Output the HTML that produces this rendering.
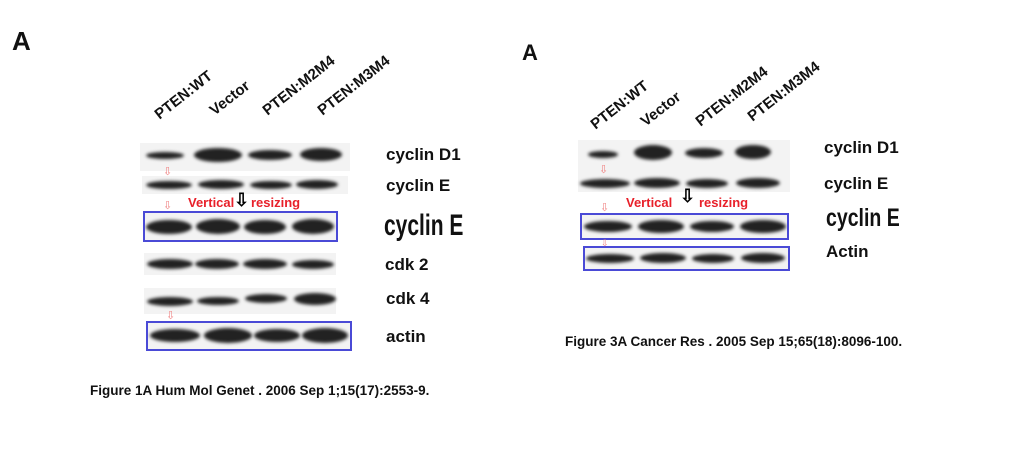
<!DOCTYPE html>
<html><head><style>
body{margin:0;width:1024px;height:450px;background:#fff;position:relative;overflow:hidden;font-family:"Liberation Sans",sans-serif}
.a{position:absolute}
.t{position:absolute;font-weight:bold;color:#111;white-space:nowrap}
.h{position:absolute;font-weight:bold;font-size:15px;color:#111;white-space:nowrap;transform-origin:0 100%;transform:rotate(-38deg)}
.strip{position:absolute;background:#f3f3f3}
.b{position:absolute;background:#222;border-radius:50%;filter:blur(1.5px)}
.box{position:absolute;border:2.5px solid #4a4ad6;box-sizing:border-box}
.r{position:absolute;color:#e8202a;font-weight:bold;font-size:13px}
.pa{position:absolute;color:#f08080;font-size:11px}
.big{position:absolute;font-weight:bold;color:#111;white-space:nowrap;transform-origin:0 0}
</style></head><body>
<div class="t" style="left:12px;top:26px;font-size:26px">A</div>
<div class="t" style="left:522px;top:40px;font-size:22px">A</div>

<div class="h" style="left:162px;top:106px">PTEN:WT</div>
<div class="h" style="left:217px;top:102px">Vector</div>
<div class="h" style="left:270px;top:102px">PTEN:M2M4</div>
<div class="h" style="left:325px;top:102px">PTEN:M3M4</div>

<div class="h" style="left:598px;top:116px">PTEN:WT</div>
<div class="h" style="left:648px;top:113px">Vector</div>
<div class="h" style="left:703px;top:113px">PTEN:M2M4</div>
<div class="h" style="left:755px;top:108px">PTEN:M3M4</div>

<!-- left blots -->
<div class="strip" style="left:140px;top:143px;width:210px;height:28px"></div>
<div class="b" style="left:146px;top:152px;width:38px;height:7px"></div>
<div class="b" style="left:194px;top:148px;width:48px;height:14px"></div>
<div class="b" style="left:248px;top:150px;width:44px;height:10px"></div>
<div class="b" style="left:300px;top:148px;width:42px;height:13px"></div>
<div class="strip" style="left:142px;top:176px;width:206px;height:18px"></div>
<div class="b" style="left:146px;top:181px;width:46px;height:8px"></div>
<div class="b" style="left:198px;top:180px;width:46px;height:9px"></div>
<div class="b" style="left:250px;top:181px;width:42px;height:8px"></div>
<div class="b" style="left:296px;top:180px;width:42px;height:9px"></div>
<div class="strip" style="left:144px;top:213px;width:192px;height:27px"></div>
<div class="b" style="left:146px;top:220px;width:46px;height:14px"></div>
<div class="b" style="left:196px;top:219px;width:44px;height:15px"></div>
<div class="b" style="left:244px;top:220px;width:42px;height:14px"></div>
<div class="b" style="left:292px;top:219px;width:42px;height:15px"></div>
<div class="box" style="left:143px;top:211px;width:195px;height:31px"></div>
<div class="strip" style="left:144px;top:253px;width:192px;height:22px"></div>
<div class="b" style="left:147px;top:259px;width:46px;height:10px"></div>
<div class="b" style="left:195px;top:259px;width:44px;height:10px"></div>
<div class="b" style="left:243px;top:259px;width:44px;height:10px"></div>
<div class="b" style="left:292px;top:260px;width:42px;height:9px"></div>
<div class="strip" style="left:144px;top:288px;width:192px;height:26px"></div>
<div class="b" style="left:147px;top:297px;width:46px;height:9px"></div>
<div class="b" style="left:197px;top:297px;width:42px;height:8px"></div>
<div class="b" style="left:245px;top:294px;width:42px;height:9px"></div>
<div class="b" style="left:294px;top:293px;width:42px;height:12px"></div>
<div class="strip" style="left:147px;top:323px;width:203px;height:26px"></div>
<div class="b" style="left:150px;top:329px;width:50px;height:13px"></div>
<div class="b" style="left:204px;top:328px;width:48px;height:15px"></div>
<div class="b" style="left:254px;top:329px;width:46px;height:13px"></div>
<div class="b" style="left:302px;top:328px;width:46px;height:15px"></div>
<div class="box" style="left:146px;top:321px;width:206px;height:30px"></div>
<div class="pa" style="left:163px;top:165px">⇩</div>
<div class="pa" style="left:163px;top:199px">⇩</div>
<div class="pa" style="left:166px;top:309px">⇩</div>
<div class="r" style="left:188px;top:195px">Vertical</div>
<div class="a" style="left:234px;top:190px;font-size:18px;font-weight:bold">⇩</div>
<div class="r" style="left:251px;top:195px">resizing</div>

<div class="t" style="left:386px;top:145px;font-size:17px">cyclin D1</div>
<div class="t" style="left:386px;top:176px;font-size:17px">cyclin E</div>
<div class="big" style="left:384px;top:209px;font-size:30px;transform:scaleX(0.7)">cyclin E</div>
<div class="t" style="left:385px;top:255px;font-size:17px">cdk 2</div>
<div class="t" style="left:386px;top:289px;font-size:17px">cdk 4</div>
<div class="t" style="left:386px;top:327px;font-size:17px">actin</div>
<div class="t" style="left:90px;top:383px;font-size:13.5px">Figure 1A Hum Mol Genet . 2006 Sep 1;15(17):2553-9.</div>

<!-- right blots -->
<div class="strip" style="left:578px;top:140px;width:212px;height:52px"></div>
<div class="b" style="left:588px;top:151px;width:30px;height:7px"></div>
<div class="b" style="left:634px;top:145px;width:38px;height:15px"></div>
<div class="b" style="left:685px;top:148px;width:38px;height:10px"></div>
<div class="b" style="left:735px;top:145px;width:36px;height:14px"></div>
<div class="b" style="left:580px;top:179px;width:50px;height:9px"></div>
<div class="b" style="left:634px;top:178px;width:46px;height:10px"></div>
<div class="b" style="left:686px;top:179px;width:42px;height:9px"></div>
<div class="b" style="left:736px;top:178px;width:44px;height:10px"></div>
<div class="strip" style="left:581px;top:215px;width:206px;height:23px"></div>
<div class="b" style="left:584px;top:221px;width:48px;height:11px"></div>
<div class="b" style="left:638px;top:220px;width:46px;height:13px"></div>
<div class="b" style="left:690px;top:221px;width:44px;height:11px"></div>
<div class="b" style="left:740px;top:220px;width:46px;height:13px"></div>
<div class="box" style="left:580px;top:213px;width:209px;height:27px"></div>
<div class="strip" style="left:584px;top:248px;width:205px;height:21px"></div>
<div class="b" style="left:586px;top:254px;width:48px;height:9px"></div>
<div class="b" style="left:640px;top:253px;width:46px;height:10px"></div>
<div class="b" style="left:692px;top:254px;width:42px;height:9px"></div>
<div class="b" style="left:741px;top:253px;width:44px;height:10px"></div>
<div class="box" style="left:583px;top:246px;width:207px;height:25px"></div>
<div class="pa" style="left:599px;top:163px">⇩</div>
<div class="pa" style="left:600px;top:201px">⇩</div>
<div class="pa" style="left:601px;top:238px;font-size:9px">⇩</div>
<div class="r" style="left:626px;top:195px">Vertical</div>
<div class="a" style="left:680px;top:186px;font-size:18px;font-weight:bold">⇩</div>
<div class="r" style="left:699px;top:195px">resizing</div>

<div class="t" style="left:824px;top:138px;font-size:17px">cyclin D1</div>
<div class="t" style="left:824px;top:174px;font-size:17px">cyclin E</div>
<div class="big" style="left:826px;top:204px;font-size:25px;transform:scaleX(0.78)">cyclin E</div>
<div class="t" style="left:826px;top:242px;font-size:17px">Actin</div>
<div class="t" style="left:565px;top:334px;font-size:13.5px">Figure 3A Cancer Res . 2005 Sep 15;65(18):8096-100.</div>
</body></html>
